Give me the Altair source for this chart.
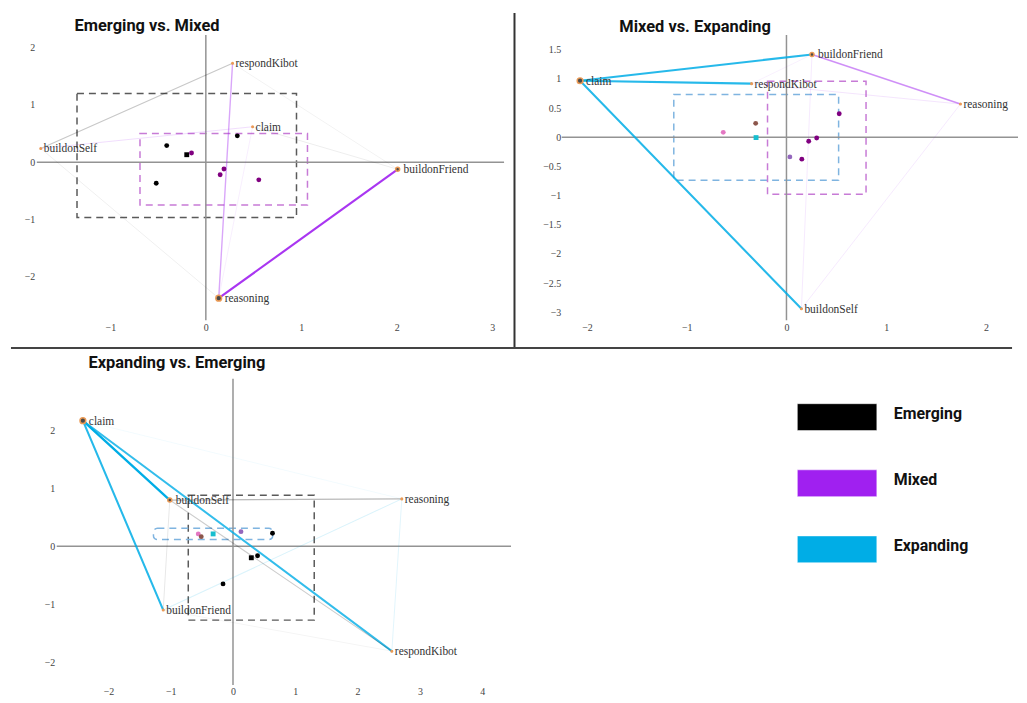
import altair as alt
import pandas as pd

# ---------------- data ----------------
groups = ["Emerging", "Mixed", "Expanding"]
panel_titles = ["Emerging vs. Mixed", "Mixed vs. Expanding", "Expanding vs. Emerging"]
members = ["e1", "e2", "e3", "e4", "m1", "m2", "m3", "m4", "x1", "x2", "x3", "x4"]

# Panel 1 : Emerging vs. Mixed
p1_nodes = ["buildonSelf", "respondKibot", "claim", "buildonFriend", "reasoning"]
p1_node_x = [-1.73, 0.28, 0.49, 2.01, 0.135]
p1_node_y = [0.24, 1.73, 0.62, -0.125, -2.38]
p1_node_w = [1, 1, 1, 2, 3]
p1_edge_src = ["buildonSelf", "respondKibot", "reasoning", "buildonSelf", "buildonSelf", "respondKibot", "claim", "reasoning"]
p1_edge_tgt = ["respondKibot", "reasoning", "buildonFriend", "reasoning", "claim", "buildonFriend", "buildonFriend", "claim"]
p1_edge_group = ["Emerging", "Mixed", "Mixed", "Emerging", "Mixed", "Emerging", "Emerging", "Mixed"]
p1_edge_w = [0.22, 0.4, 0.9, 0.07, 0.15, 0.06, 0.08, 0.08]
p1_pt_member = ["e1", "e2", "e3", "e4", "m1", "m2", "m3", "m4"]
p1_pt_x = [-0.41, -0.20, -0.52, 0.33, -0.15, 0.19, 0.15, 0.555]
p1_pt_y = [0.29, 0.13, -0.37, 0.46, 0.16, -0.12, -0.22, -0.31]
p1_box_group = ["Emerging", "Mixed"]
p1_box_x1 = [-1.35, -0.69]
p1_box_x2 = [0.95, 1.065]
p1_box_y1 = [-0.97, -0.75]
p1_box_y2 = [1.2, 0.5]
p1_x_ticks = [-1, 0, 1, 2, 3]
p1_y_ticks = [-2, -1, 0, 1, 2]
p1_x_domain = [-1.771, 3.125]
p1_y_domain = [-2.765, 2.226]

# Panel 2 : Mixed vs. Expanding
p2_nodes = ["claim", "respondKibot", "buildonFriend", "reasoning", "buildonSelf"]
p2_node_x = [-2.07, -0.35, 0.256, 1.745, 0.15]
p2_node_y = [0.97, 0.92, 1.42, 0.57, -2.94]
p2_node_w = [3, 1, 2, 1, 1]
p2_edge_src = ["claim", "claim", "claim", "buildonFriend", "respondKibot", "buildonFriend", "reasoning", "respondKibot"]
p2_edge_tgt = ["buildonFriend", "respondKibot", "buildonSelf", "reasoning", "reasoning", "buildonSelf", "buildonSelf", "buildonFriend"]
p2_edge_group = ["Expanding", "Expanding", "Expanding", "Mixed", "Mixed", "Mixed", "Mixed", "Mixed"]
p2_edge_w = [0.85, 0.85, 0.85, 0.5, 0.12, 0.1, 0.1, 0.07]
p2_pt_member = ["m1", "m2", "m3", "m4", "x1", "x2", "x3", "x4"]
p2_pt_x = [0.529, 0.303, 0.223, 0.154, -0.634, -0.309, -0.305, 0.034]
p2_pt_y = [0.404, -0.012, -0.068, -0.375, 0.085, 0.239, -0.005, -0.336]
p2_box_group = ["Expanding", "Mixed"]
p2_box_x1 = [-1.13, -0.19]
p2_box_x2 = [0.523, 0.798]
p2_box_y1 = [-0.738, -0.977]
p2_box_y2 = [0.733, 0.96]
p2_x_ticks = [-2, -1, 0, 1, 2]
p2_y_ticks = [-3, -2.5, -2, -1.5, -1, -0.5, 0, 0.5, 1, 1.5]
p2_x_domain = [-2.254, 2.322]
p2_y_domain = [-3.136, 1.756]

# Panel 3 : Expanding vs. Emerging
p3_nodes = ["claim", "buildonSelf", "reasoning", "buildonFriend", "respondKibot"]
p3_node_x = [-2.41, -1.015, 2.71, -1.12, 2.55]
p3_node_y = [2.17, 0.80, 0.82, -1.10, -1.81]
p3_node_w = [3, 2, 1, 1, 1]
p3_edge_src = ["claim", "claim", "claim", "buildonSelf", "buildonSelf", "claim", "buildonFriend", "buildonSelf", "reasoning", "buildonFriend"]
p3_edge_tgt = ["buildonSelf", "buildonFriend", "respondKibot", "reasoning", "respondKibot", "reasoning", "reasoning", "buildonFriend", "respondKibot", "respondKibot"]
p3_edge_group = ["Expanding", "Expanding", "Expanding", "Emerging", "Emerging", "Expanding", "Expanding", "Emerging", "Expanding", "Emerging"]
p3_edge_w = [1.0, 0.85, 0.8, 0.28, 0.2, 0.06, 0.15, 0.1, 0.12, 0.05]
p3_pt_member = ["x1", "x2", "x3", "x4", "e1", "e2", "e3", "e4"]
p3_pt_x = [-0.558, -0.51, -0.319, 0.128, 0.634, 0.294, 0.394, -0.16]
p3_pt_y = [0.215, 0.168, 0.215, 0.254, 0.227, -0.197, -0.163, -0.649]
p3_box_group = ["Emerging", "Expanding"]
p3_box_x1 = [-0.718, -1.277]
p3_box_x2 = [1.304, 0.638]
p3_box_y1 = [-1.274, 0.117]
p3_box_y2 = [0.884, 0.312]
p3_x_ticks = [-2, -1, 0, 1, 2, 3, 4]
p3_y_ticks = [-2, -1, 0, 1, 2]
p3_x_domain = [-2.83, 4.463]
p3_y_domain = [-2.395, 2.893]

# ---------------- styling ----------------
SERIF = "Liberation Serif"
SANS = "Roboto"
group_scale = alt.Scale(domain=groups, range=["#000000", "#a020f0", "#00ade6"])
box_scale = alt.Scale(domain=groups, range=["#5a5a5a", "#c77bd6", "#7fb4e0"])
member_color = alt.Scale(domain=members, range=["#000000"] * 4 + ["#800080"] * 4 +
                         ["#e377c2", "#8c564b", "#17becf", "#9467bd"])
member_shape = alt.Scale(domain=members, range=["circle", "square", "circle", "circle",
                                                "circle", "circle", "circle", "circle",
                                                "circle", "circle", "square", "circle"])
node_size = alt.Scale(domain=[1, 2, 3], range=[2.5, 16, 33])
node_fill = alt.Scale(domain=[1, 2, 3], range=["#ee8a3a", "#4a4a4a", "#4a4a4a"])


def make_panel(nodes, nx, ny, nw, es, et, eg, ew, pm, px, py,
               bg, bx1, bx2, by1, by2, xt, yt, xd, yd,
               width, height, title, tdx, tdy,
               xrange=None, y_offset=0, y_pad=2, rounded=None, dividers=False):
    xkw = dict(domain=xd, nice=False, zero=False)
    if xrange is not None:
        xkw["range"] = xrange
    xs = alt.Scale(**xkw)
    ys = alt.Scale(domain=yd, nice=False, zero=False)
    xr0, xr1 = (xrange if xrange is not None else [0, width])
    lab = dict(labelFont=SERIF, labelFontSize=10, labelColor="#444", domain=False,
               ticks=False, tickSize=0, grid=False, title=None, format="~g",
               labelFlush=False, labelOverlap=False)
    xaxis = alt.Axis(values=xt, labelPadding=2, **lab)
    yaxis = alt.Axis(values=yt, labelPadding=y_pad, offset=y_offset, **lab)

    def X(f):
        return alt.X(f, type="quantitative", scale=xs, axis=xaxis)

    def Y(f):
        return alt.Y(f, type="quantitative", scale=ys, axis=yaxis)

    pos = dict(zip(nodes, zip(nx, ny)))
    node_df = pd.DataFrame({"name": nodes, "x": nx, "y": ny, "w": nw})
    edge_df = pd.DataFrame({"src": es, "tgt": et, "group": eg, "w": ew,
                            "x": [pos[s][0] for s in es], "y": [pos[s][1] for s in es],
                            "x2": [pos[t][0] for t in et], "y2": [pos[t][1] for t in et]})
    pt_df = pd.DataFrame({"member": pm, "x": px, "y": py})
    box_df = pd.DataFrame({"group": bg, "x": bx1, "x2": bx2, "y": by1, "y2": by2})
    one = pd.DataFrame({"k": [0]})

    layers = []
    box_enc = dict(x=X("x"), x2="x2", y=Y("y"), y2="y2",
                   stroke=alt.Stroke("group:N", scale=box_scale, legend=None))
    if rounded:
        layers.append(alt.Chart(box_df).transform_filter(alt.datum.group != rounded)
                      .mark_rect(filled=False, strokeDash=[7, 5], strokeWidth=1.5)
                      .encode(**box_enc))
        layers.append(alt.Chart(box_df).transform_filter(alt.datum.group == rounded)
                      .mark_rect(filled=False, strokeDash=[7, 5], strokeWidth=1.5,
                                 cornerRadius=4)
                      .encode(**box_enc))
    else:
        layers.append(alt.Chart(box_df)
                      .mark_rect(filled=False, strokeDash=[7, 5], strokeWidth=1.5)
                      .encode(**box_enc))

    layers.append(alt.Chart(one).mark_rule(color="#939393", strokeWidth=1.5).encode(
        x=alt.X(datum=0, type="quantitative", scale=xs, axis=xaxis),
        y=alt.value(0), y2=alt.value(height)))
    layers.append(alt.Chart(one).mark_rule(color="#939393", strokeWidth=1.5).encode(
        y=alt.Y(datum=0, type="quantitative", scale=ys, axis=yaxis),
        x=alt.value(xr0), x2=alt.value(xr1)))

    layers.append(alt.Chart(edge_df).mark_rule(strokeCap="round").encode(
        x=X("x"), y=Y("y"), x2="x2", y2="y2",
        color=alt.Color("group:N", scale=group_scale, legend=None),
        opacity=alt.Opacity("w:Q", scale=None),
        strokeWidth=alt.StrokeWidth("w:Q", scale=alt.Scale(domain=[0, 1], range=[0.8, 2.3]),
                                    legend=None)))

    layers.append(alt.Chart(pt_df).mark_point(filled=True, size=24, opacity=1).encode(
        x=X("x"), y=Y("y"),
        color=alt.Color("member:N", scale=member_color, legend=None),
        shape=alt.Shape("member:N", scale=member_shape, legend=None)))

    layers.append(alt.Chart(node_df).mark_circle(stroke="#eb9a55", strokeWidth=1.5,
                                                 opacity=1).encode(
        x=X("x"), y=Y("y"),
        size=alt.Size("w:Q", scale=node_size, legend=None),
        fill=alt.Fill("w:N", scale=node_fill, legend=None)))

    lab_kw = dict(align="left", baseline="middle", font=SERIF, fontSize=11.5, color="#333", dy=1)
    layers.append(alt.Chart(node_df).transform_filter(alt.datum.w == 1)
                  .mark_text(dx=3, **lab_kw).encode(x=X("x"), y=Y("y"), text="name:N"))
    layers.append(alt.Chart(node_df).transform_filter(alt.datum.w > 1)
                  .mark_text(dx=6, **lab_kw).encode(x=X("x"), y=Y("y"), text="name:N"))

    layers.append(alt.Chart(pd.DataFrame({"t": [title]})).mark_text(
        align="left", baseline="alphabetic", font=SANS, fontSize=16.5, fontWeight="bold",
        color="#111").encode(x=alt.value(tdx), y=alt.value(tdy), text="t:N"))

    if dividers:
        layers.append(alt.Chart(one).mark_rule(color="#333", strokeWidth=2).encode(
            x=alt.value(460.5), y=alt.value(-22), y2=alt.value(315)))
        layers.append(alt.Chart(one).mark_rule(color="#444", strokeWidth=2).encode(
            y=alt.value(315), x=alt.value(-46), x2=alt.value(961)))

    return alt.layer(*layers).resolve_scale(
        color="independent", fill="independent", stroke="independent",
        shape="independent", size="independent"
    ).properties(width=width, height=height)


p1 = make_panel(p1_nodes, p1_node_x, p1_node_y, p1_node_w, p1_edge_src, p1_edge_tgt,
                p1_edge_group, p1_edge_w, p1_pt_member, p1_pt_x, p1_pt_y,
                p1_box_group, p1_box_x1, p1_box_x2, p1_box_y1, p1_box_y2,
                p1_x_ticks, p1_y_ticks, p1_x_domain, p1_y_domain,
                450, 287, panel_titles[0], 18, -3.5,
                xrange=[-20, 450], y_offset=20, y_pad=2, dividers=True)

p2 = make_panel(p2_nodes, p2_node_x, p2_node_y, p2_node_w, p2_edge_src, p2_edge_tgt,
                p2_edge_group, p2_edge_w, p2_pt_member, p2_pt_x, p2_pt_y,
                p2_box_group, p2_box_x1, p2_box_x2, p2_box_y1, p2_box_y2,
                p2_x_ticks, p2_y_ticks, p2_x_domain, p2_y_domain,
                459, 287, panel_titles[1], 58, -3, y_pad=1)

p3 = make_panel(p3_nodes, p3_node_x, p3_node_y, p3_node_w, p3_edge_src, p3_edge_tgt,
                p3_edge_group, p3_edge_w, p3_pt_member, p3_pt_x, p3_pt_y,
                p3_box_group, p3_box_x1, p3_box_x2, p3_box_y1, p3_box_y2,
                p3_x_ticks, p3_y_ticks, p3_x_domain, p3_y_domain,
                457, 308, panel_titles[2], 32, -10.5, y_pad=2, rounded="Expanding")

# legend panel
leg_df = pd.DataFrame({"group": groups})
leg_y = alt.Scale(domain=groups, range=[5.25, 204.75], paddingInner=0.594, paddingOuter=0.297)
leg_rect = alt.Chart(leg_df).mark_rect(stroke="#ffffff", strokeOpacity=0.5, strokeWidth=1).encode(
    x=alt.value(237), x2=alt.value(317),
    y=alt.Y("group:N", scale=leg_y, axis=None),
    color=alt.Color("group:N", scale=group_scale, legend=None))
leg_text = alt.Chart(leg_df).mark_text(align="left", baseline="middle", dy=-3, font=SANS,
                                       fontSize=16, fontWeight="bold", color="#111").encode(
    x=alt.value(334), y=alt.Y("group:N", scale=leg_y, axis=None), text="group:N")
leg = alt.layer(leg_rect, leg_text).properties(width=452, height=308)

chart = alt.concat(p1, p2, p3, leg, columns=2, align="none", bounds="flush",
                   spacing={"row": 59, "column": 51}).properties(
    padding={"left": 2, "top": 2, "right": 0, "bottom": 0}
).configure_view(stroke=None)

chart.save("out.html", embed_options={"renderer": "svg", "actions": False})
